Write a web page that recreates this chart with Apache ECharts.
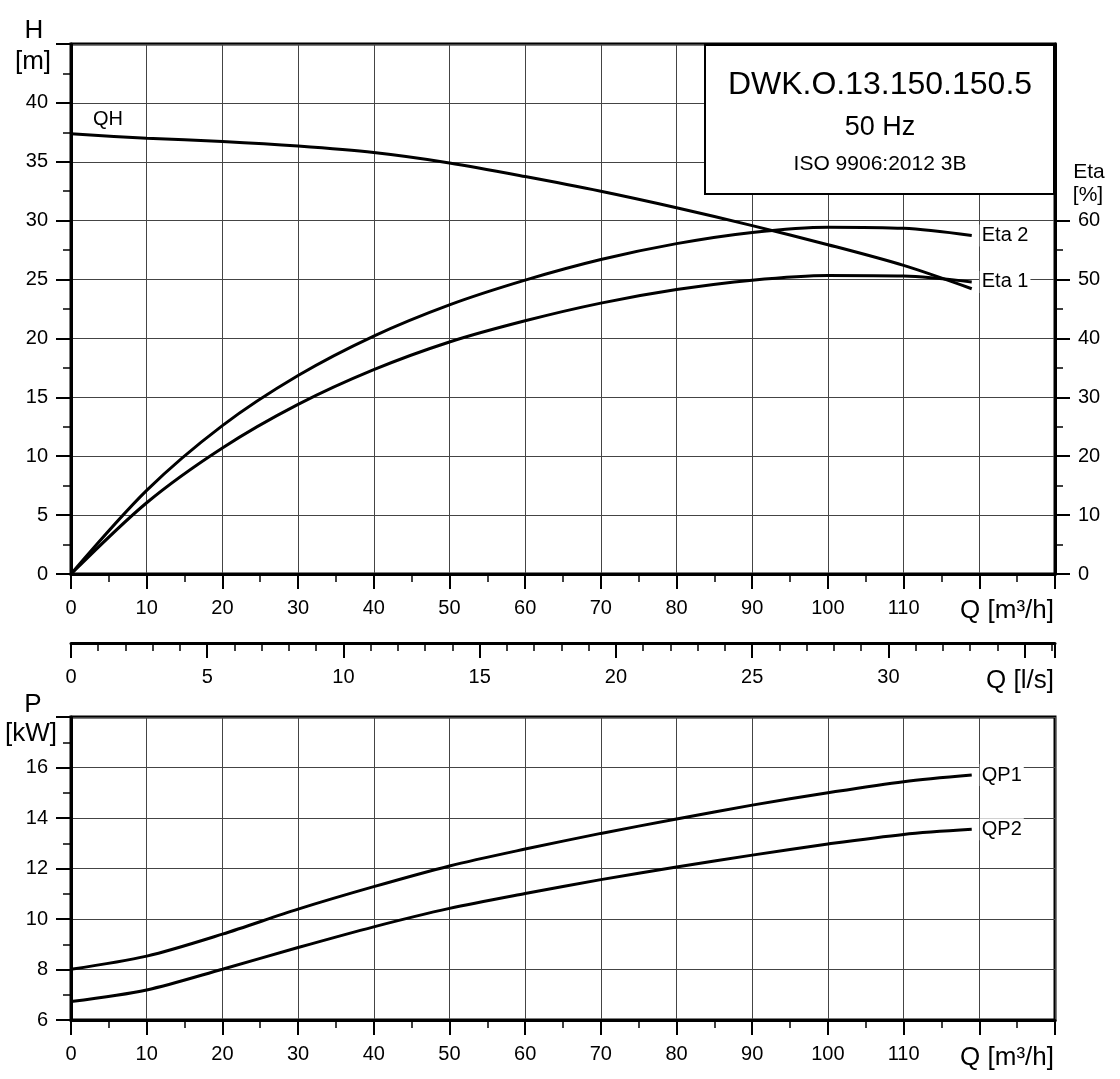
<!DOCTYPE html>
<html>
<head>
<meta charset="utf-8">
<script src="https://cdn.jsdelivr.net/npm/echarts@6/dist/echarts.min.js"></script>
<style>
html,body{margin:0;padding:0;background:#fff;}
#chart{width:1120px;height:1079px;}
</style>
</head>
<body>
<div id="chart"></div>
<script>
// ---- data ----
const qFlow = [0, 10, 20, 30, 40, 50, 60, 70, 80, 90, 100, 110, 119];          // Q [m3/h]
const headQH = [37.37, 37.0, 36.72, 36.33, 35.78, 34.9, 33.75, 32.5, 31.1, 29.58, 27.96, 26.2, 24.22]; // H [m]
const eta1 = [0, 12.1, 21.4, 28.8, 34.7, 39.4, 43.0, 46.0, 48.3, 49.9, 50.7, 50.6, 49.6];      // Eta 1 [%]
const eta2 = [0, 14.2, 25.2, 33.7, 40.4, 45.7, 49.9, 53.4, 56.1, 58.0, 58.9, 58.7, 57.5];      // Eta 2 [%]
const powerQP1 = [8.01, 8.53, 9.40, 10.39, 11.28, 12.10, 12.77, 13.39, 13.96, 14.51, 15.0, 15.44, 15.70]; // P [kW]
const powerQP2 = [6.73, 7.19, 8.01, 8.87, 9.69, 10.42, 11.01, 11.56, 12.06, 12.53, 12.97, 13.35, 13.55];
const seriesNames = ['QH', 'Eta 1', 'Eta 2', 'QP1', 'QP2'];
const titleLines = ['DWK.O.13.150.150.5', '50 Hz', 'ISO 9906:2012 3B'];
const axisNames = { H: ['H', '[m]'], Eta: ['Eta', '[%]'], P: ['P', '[kW]'], Qm3h: 'Q [m³/h]', Qls: 'Q [l/s]' };
const qRange = [0, 130];            // m3/h
const lpsFactor = 3.6;              // m3/h per l/s
const etaTickValues = [0, 10, 20, 30, 40, 50, 60];
const etaMinorTickValues = [5, 15, 25, 35, 45, 55];
const lastQLabel = 110, lastLpsLabel = 30, lastHLabel = 40, lastPLabel = 16;

const FF = '"Liberation Sans", Arial, sans-serif';
const zip = (xs, ys) => xs.map((x, i) => [x, ys[i]]);
const LBL = 20;
const TOP = { left: 71, top: 44, width: 984, height: 530 };
const BOT = { left: 71, top: 717, width: 984, height: 303 };

function xAxisCfg(grid, max, interval, minorSplit, lastLabel, offset) {
  return {
    gridIndex: grid, type: 'value', min: 0, max: max, interval: interval, position: 'bottom', offset: offset || 0,
    axisLine: { onZero: false, lineStyle: { color: '#000', width: 3 } },
    axisTick: { length: 15, lineStyle: { color: '#000', width: 2 } },
    minorTick: { show: true, splitNumber: minorSplit, length: 8, lineStyle: { color: '#000', width: 1.5 } },
    splitLine: { show: offset ? false : true, lineStyle: { color: '#444', width: 1 } },
    axisLabel: { margin: 24, fontSize: LBL, color: '#000', fontFamily: FF,
      formatter: v => (v <= lastLabel + 1e-9 ? String(Math.round(v)) : '') }
  };
}
function yAxisCfg(grid, min, max, interval, lastLabel, pos, split) {
  return {
    gridIndex: grid, type: 'value', min: min, max: max, interval: interval, position: pos,
    axisLine: { show: true, onZero: false, lineStyle: { color: '#000', width: 3 } },
    axisTick: { show: true, length: 15, lineStyle: { color: '#000', width: 2 } },
    minorTick: { show: true, splitNumber: 2, length: 8, lineStyle: { color: '#000', width: 1.5 } },
    splitLine: { show: split, lineStyle: { color: '#444', width: 1 } },
    axisLabel: { margin: 23, fontSize: LBL, color: '#000', fontFamily: FF,
      formatter: v => (v <= lastLabel ? String(v) : '') }
  };
}
function curve(name, data, xi, yi, endLabel) {
  const s = {
    name: name, type: 'line', xAxisIndex: xi, yAxisIndex: yi, data: data,
    smooth: 0.3,
    symbol: 'none', lineStyle: { color: '#000', width: 3 }, z: 5
  };
  if (endLabel) {
    s.endLabel = { show: true, formatter: name, fontSize: 20, color: '#000', fontFamily: FF,
      backgroundColor: '#fff', padding: [1, 2], distance: 8 };
  }
  return s;
}

const chart = echarts.init(document.getElementById('chart'), null, { renderer: 'canvas' });
const txt = (text, x, y, size, align) => ({
  type: 'text', z: 120, style: { text: text, x: x, y: y, fill: '#000', font: size + 'px ' + FF,
    textAlign: align || 'center', textVerticalAlign: 'middle' }
});

const qhSeries = curve(seriesNames[0], zip(qFlow, headQH), 0, 0, false);
qhSeries.markPoint = {
  symbol: 'circle', symbolSize: 0, silent: true,
  data: [{ coord: [qFlow[0], headQH[0]] }],
  label: { show: true, formatter: seriesNames[0], position: 'inside', offset: [37, -14],
    fontSize: 20, color: '#000', fontFamily: FF }
};

// right Eta axis: major ticks/labels only up to 60
const etaAxis = {
  gridIndex: 0, type: 'value', min: 0, max: 90, interval: 10, position: 'right',
  axisLine: { show: true, onZero: false, lineStyle: { color: '#000', width: 3 } },
  axisTick: { show: true, length: 15, customValues: etaTickValues, lineStyle: { color: '#000', width: 2 } },
  minorTick: { show: false },
  splitLine: { show: false },
  axisLabel: { margin: 23, fontSize: LBL, color: '#000', fontFamily: FF, customValues: etaTickValues }
};
// helper grid overlapping the top grid, carrying only the short Eta ticks on the right
const etaMinorX = { gridIndex: 2, type: 'value', min: 0, max: qRange[1], show: false };
const etaMinorAxis = {
  gridIndex: 2, type: 'value', min: 0, max: 90, position: 'right',
  axisLine: { show: false, onZero: false },
  axisTick: { show: true, length: 8, customValues: etaMinorTickValues, lineStyle: { color: '#000', width: 1.5 } },
  minorTick: { show: false },
  splitLine: { show: false },
  axisLabel: { show: false }
};

chart.setOption({
  animation: false,
  backgroundColor: '#fff',
  grid: [
    Object.assign({ show: true, borderColor: '#000', borderWidth: 3, backgroundColor: 'transparent' }, TOP),
    Object.assign({ show: true, borderColor: '#000', borderWidth: 3, backgroundColor: 'transparent' }, BOT),
    Object.assign({ show: false }, TOP)
  ],
  xAxis: [
    xAxisCfg(0, qRange[1], 10, 2, lastQLabel, 0),
    xAxisCfg(0, qRange[1] / lpsFactor, 5, 5, lastLpsLabel, 69),
    xAxisCfg(1, qRange[1], 10, 2, lastQLabel, 0),
    etaMinorX
  ],
  yAxis: [
    yAxisCfg(0, 0, 45, 5, lastHLabel, 'left', true),
    etaAxis,
    yAxisCfg(1, 6, 18, 2, lastPLabel, 'left', true),
    etaMinorAxis
  ],
  series: [
    qhSeries,
    curve(seriesNames[1], zip(qFlow, eta1), 0, 1, true),
    curve(seriesNames[2], zip(qFlow, eta2), 0, 1, true),
    curve(seriesNames[3], zip(qFlow, powerQP1), 2, 2, true),
    curve(seriesNames[4], zip(qFlow, powerQP2), 2, 2, true)
  ],
  graphic: [
    { type: 'rect', z: 110, shape: { x: 705, y: 45, width: 349, height: 149 },
      style: { fill: '#fff', stroke: '#000', lineWidth: 2 } },
    txt(titleLines[0], 880, 85, 32),
    txt(titleLines[1], 880, 128, 27),
    txt(titleLines[2], 880, 164, 21),
    txt(axisNames.H[0], 34, 31, 26),
    txt(axisNames.H[1], 33, 62, 26),
    txt(axisNames.Eta[0], 1089, 172, 21),
    txt(axisNames.Eta[1], 1088, 195, 21),
    txt(axisNames.P[0], 33, 705, 26),
    txt(axisNames.P[1], 31, 734, 26),
    txt(axisNames.Qm3h, 1054, 611, 26, 'right'),
    txt(axisNames.Qls, 1054, 681, 26, 'right'),
    txt(axisNames.Qm3h, 1054, 1058, 26, 'right')
  ]
});
</script>
</body>
</html>
